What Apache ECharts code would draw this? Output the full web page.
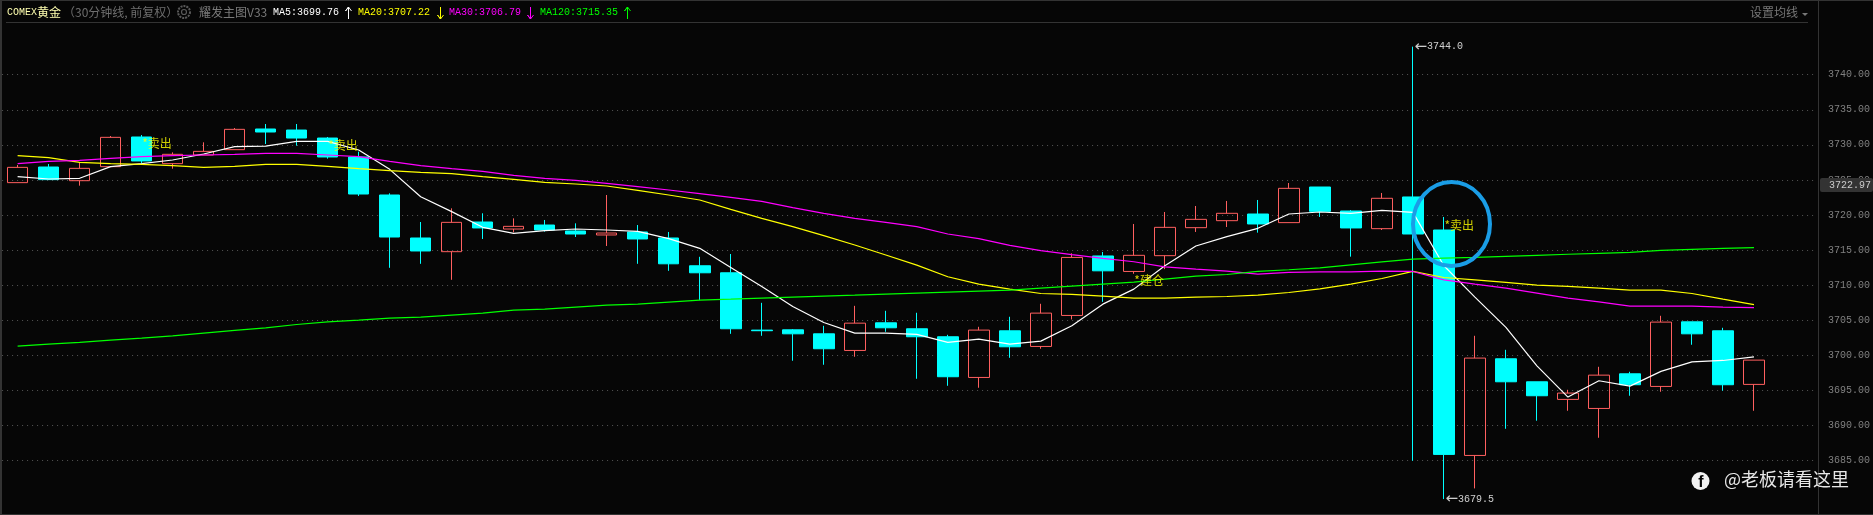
<!DOCTYPE html>
<html><head><meta charset="utf-8">
<style>html,body{margin:0;padding:0;background:#060606}#c{width:1873px;height:515px}</style>
<script src="https://cdn.jsdelivr.net/npm/echarts@6/dist/echarts.min.js"></script>
</head><body><div id="c"></div>
<script>
const opens=[3724.61,3726.84,3724.89,3726.89,3731.12,3727.32,3728.55,3729.31,3732.26,3732.11,3730.97,3728.27,3722.85,3716.72,3714.77,3719.0,3718.0,3718.57,3717.72,3717.15,3717.58,3716.72,3712.76,3711.76,3703.59,3703.63,3703.06,3700.69,3704.63,3703.78,3702.64,3696.84,3703.49,3701.26,3705.68,3714.16,3711.95,3714.2,3718.19,3719.19,3720.14,3718.91,3723.99,3720.57,3718.05,3722.57,3717.86,3685.72,3699.5,3696.22,3693.71,3692.42,3697.36,3695.56,3704.77,3703.49,3695.85];
const closes=[3726.79,3725.04,3726.65,3731.07,3727.70,3728.65,3729.07,3732.21,3731.83,3730.97,3728.27,3722.99,3716.86,3714.87,3718.95,3718.15,3718.38,3717.86,3717.29,3717.43,3716.58,3713.04,3711.76,3703.78,3703.5,3703.06,3700.93,3704.58,3703.92,3702.64,3696.94,3703.59,3701.21,3706.01,3713.95,3712.04,3714.25,3718.24,3719.38,3720.24,3718.72,3723.8,3720.52,3718.15,3722.38,3717.29,3685.87,3699.6,3696.22,3694.23,3694.61,3697.17,3695.8,3704.73,3703.06,3695.8,3699.31];
const lows=[3724.61,3725.04,3724.18,3726.89,3727.36,3726.60,3728.55,3729.31,3730.12,3729.88,3728.03,3722.71,3712.47,3713.04,3710.76,3716.58,3717.53,3717.62,3716.86,3715.58,3713.04,3712.04,3707.86,3703.06,3702.78,3699.22,3698.65,3699.79,3703.35,3696.65,3695.65,3695.37,3699.64,3700.93,3705.11,3707.62,3711.62,3712.28,3717.58,3718.29,3717.48,3718.91,3719.72,3714.06,3717.86,3684.96,3679.5,3681.02,3689.52,3690.67,3692.09,3688.24,3694.23,3694.8,3701.5,3694.95,3692.09];
const highs=[3727.13,3727.27,3727.46,3731.26,3731.40,3728.93,3730.36,3732.40,3732.97,3732.97,3731.12,3729.03,3723.09,3719.0,3720.95,3720.24,3719.52,3719.29,3718.81,3722.85,3718.57,3717.58,3714.04,3714.44,3707.48,3703.73,3704.2,3707.05,3706.34,3706.06,3702.92,3704.06,3705.49,3707.34,3714.54,3714.73,3718.72,3720.43,3721.28,3722.0,3722.14,3724.56,3723.99,3720.71,3723.14,3744.0,3719.72,3702.78,3700.78,3696.22,3695.08,3698.36,3697.65,3705.63,3704.77,3703.92,3699.31];
const ma5=[3725.46,3725.13,3725.23,3726.89,3727.32,3727.84,3728.69,3729.74,3729.83,3730.5,3730.5,3729.26,3726.51,3722.61,3720.48,3718.24,3717.39,3717.77,3718.0,3717.86,3717.67,3716.63,3715.25,3712.52,3709.81,3706.96,3704.68,3703.16,3703.16,3702.97,3701.83,3702.3,3701.59,3702.02,3704.2,3707.29,3709.43,3712.76,3715.58,3716.91,3718.1,3720.14,3720.43,3720.24,3720.67,3720.38,3712.76,3708.29,3703.97,3698.5,3694.04,3696.37,3695.6,3697.7,3699.07,3699.26,3699.76];
const ma20=[3728.46,3728.17,3727.51,3727.32,3727.22,3727.03,3726.79,3726.94,3727.22,3727.22,3726.94,3726.6,3726.32,3726.08,3725.89,3725.46,3725.08,3724.66,3724.42,3724.13,3723.52,3722.85,3722.14,3720.81,3719.52,3718.34,3717.05,3715.72,3714.3,3712.85,3711.19,3710.14,3709.43,3708.81,3708.67,3708.43,3708.15,3708.15,3708.29,3708.38,3708.57,3708.95,3709.48,3710.14,3710.95,3711.95,3711.09,3710.76,3710.38,3710.0,3709.81,3709.57,3709.29,3709.29,3708.81,3708.0,3707.22];
const ma30=[3727.32,3727.65,3727.79,3728.08,3728.31,3728.46,3728.55,3728.65,3728.79,3728.79,3728.55,3728.31,3727.65,3727.03,3726.6,3726.22,3725.65,3725.23,3724.94,3724.51,3724.04,3723.56,3723.04,3722.52,3721.95,3721.05,3720.24,3719.52,3718.95,3718.34,3717.29,3716.63,3715.68,3714.92,3714.35,3713.82,3713.33,3712.61,3712.28,3711.99,3711.57,3711.81,3711.9,3711.9,3711.99,3711.95,3710.76,3710.14,3709.57,3708.86,3708.15,3707.62,3707.01,3707.01,3707.01,3706.86,3706.79];
const ma120=[3701.31,3701.59,3701.83,3702.16,3702.45,3702.78,3703.16,3703.54,3703.92,3704.39,3704.77,3705.01,3705.3,3705.44,3705.72,3706.01,3706.44,3706.58,3706.86,3707.15,3707.29,3707.58,3707.86,3708.0,3708.15,3708.29,3708.43,3708.57,3708.72,3708.86,3709.0,3709.14,3709.29,3709.57,3709.86,3710.14,3710.43,3710.86,3711.28,3711.52,3711.95,3712.19,3712.47,3712.9,3713.33,3713.71,3713.85,3713.97,3714.11,3714.25,3714.4,3714.54,3714.68,3714.96,3715.11,3715.25,3715.35];
const signals=[[4,3730.26,'*卖出'],[10,3729.98,'*卖出'],[36,3710.6,'*建仓'],[46,3718.57,'*卖出']];
const extremes=[[45,3744.0,'3744.0'],[46,3679.5,'3679.5']];
const MONO='"Liberation Mono","DejaVu Sans Mono",monospace';
const CJK='"Noto Sans CJK SC","Noto Sans",sans-serif';
const RED='#ff5f5f',CYAN='#00ffff',BG='#060606';
const chart=echarts.init(document.getElementById('c'),null,{renderer:'canvas'});
const idx=opens.map((_,i)=>i);
const line=(name,vals,color)=>({name,type:'line',data:vals.map((v,i)=>[i,v]),symbol:'none',lineStyle:{color,width:1.2},itemStyle:{color},z:5,silent:true,clip:false});
const txt=(x,text,color,font,size)=>({type:'text',x,y:12,z:50,silent:true,style:{text,fill:color,font:`${size}px ${font}`,textVerticalAlign:'middle'}});
const arrow=(x,color,up)=>{const tip=up?7:19,end=up?19:7,d=up?4:-4;return {type:'polyline',z:50,silent:true,shape:{points:[[x,end],[x,tip],[x-3,tip+d],[x,tip],[x+3,tip+d]]},style:{stroke:color,fill:'none',lineWidth:1}};};
chart.setOption({
 animation:false,backgroundColor:BG,
 grid:{left:2.1,top:74.7,width:1815,height:385.8,containLabel:false},
 xAxis:{type:'value',min:-0.5,max:58,show:false,splitLine:{show:false}},
 yAxis:{type:'value',min:3685,max:3740,interval:5,position:'right',axisLine:{show:false},axisTick:{show:false},
  axisLabel:{margin:12,color:'#808080',fontFamily:MONO,fontSize:10,formatter:v=>v.toFixed(2)},
  splitLine:{lineStyle:{color:'#555555',type:[1,4],width:1}}},
 series:[
  {name:'K',type:'candlestick',clip:false,barWidth:21,data:idx.map(i=>[i,opens[i],closes[i],lows[i],highs[i]]),
   encode:{x:0,y:[1,2,3,4]},
   itemStyle:{color:'transparent',color0:CYAN,borderColor:RED,borderColor0:CYAN,borderWidth:1},z:3,silent:true},
  line('MA5',ma5,'#ffffff'),line('MA20',ma20,'#ffff00'),line('MA30',ma30,'#ff00ff'),line('MA120',ma120,'#00ff00'),
  {type:'scatter',clip:false,symbolSize:1,itemStyle:{color:'transparent'},z:8,silent:true,data:signals.map(s=>({value:[s[0],s[1]],label:{formatter:s[2]}})),
   label:{show:true,position:'right',distance:0,color:'#ffff00',fontFamily:CJK,fontSize:12}},
  {type:'scatter',clip:false,symbolSize:1,itemStyle:{color:'transparent'},z:8,silent:true,data:extremes.map(s=>({value:[s[0],s[1]],label:{formatter:'{a|←}{t|'+s[2]+'}'}})),
   label:{show:true,position:'right',distance:1,rich:{a:{color:'#ffffff',fontFamily:'"DejaVu Sans"',fontSize:15},t:{color:'#ffffff',fontFamily:MONO,fontSize:10}}}}
 ],
 graphic:[
  {type:'rect',z:1,silent:true,shape:{x:0,y:0,width:2,height:515},style:{fill:'#333'}},
  {type:'rect',z:1,silent:true,shape:{x:0,y:0,width:1873,height:1},style:{fill:'#333'}},
  {type:'rect',z:1,silent:true,shape:{x:0,y:514,width:1873,height:1},style:{fill:'#333'}},
  {type:'rect',z:1,silent:true,shape:{x:6,y:22,width:1802,height:1},style:{fill:'#333'}},
  {type:'rect',z:1,silent:true,shape:{x:1818,y:0,width:1,height:515},style:{fill:'#333'}},
  txt(7,'COMEX','#ffffb0',MONO,10),
  txt(37,'黄金','#ffffb0',CJK,12),
  txt(63,'（30分钟线, 前复权）','#6e6e6e',CJK,12),
  {type:'circle',z:50,silent:true,shape:{cx:184,cy:12,r:6},style:{fill:'none',stroke:'#5a5a5a',lineWidth:2,lineDash:[2,1]}},
  {type:'circle',z:50,silent:true,shape:{cx:184,cy:12,r:2.5},style:{fill:'none',stroke:'#5a5a5a',lineWidth:1.2}},
  txt(199,'耀发主图V33','#7a7a7a',CJK,12),
  txt(273,'MA5:3699.76','#ffffff',MONO,10),
  arrow(348.5,'#ffffff',true),
  txt(358,'MA20:3707.22','#ffff00',MONO,10),
  arrow(440.5,'#ffff00',false),
  txt(449,'MA30:3706.79','#ff00ff',MONO,10),
  arrow(530.5,'#ff00ff',false),
  txt(540,'MA120:3715.35','#00ff00',MONO,10),
  arrow(627.5,'#00ff00',true),
  txt(1750,'设置均线','#777777',CJK,12),
  {type:'polygon',z:50,silent:true,shape:{points:[[1802,13],[1808,13],[1805,16]]},style:{fill:'#777'}},
  {type:'rect',z:60,silent:true,shape:{x:1820,y:178,width:53,height:14,r:2},style:{fill:'#333'}},
  {type:'text',z:61,silent:true,x:1829,y:185,style:{text:'3722.97',fill:'#cccccc',font:'10px '+MONO,textVerticalAlign:'middle'}},
  {type:'ellipse',z:30,silent:true,shape:{cx:1451.5,cy:224,rx:38.5,ry:42},style:{fill:'none',stroke:'#1a9de6',lineWidth:4}},
  {type:'circle',z:30,silent:true,shape:{cx:1700.5,cy:481,r:9},style:{fill:'#f2f2f2'}},
  {type:'text',z:31,silent:true,x:1701,y:483,style:{text:'f',fill:'#060606',font:'bold 16px "Liberation Sans"',textAlign:'center',textVerticalAlign:'middle'}},
  {type:'text',z:30,silent:true,x:1724,y:479,style:{text:'@老板请看这里',fill:'#e6e6e6',font:'18px '+CJK,textVerticalAlign:'middle'}}
 ]
});
</script></body></html>
